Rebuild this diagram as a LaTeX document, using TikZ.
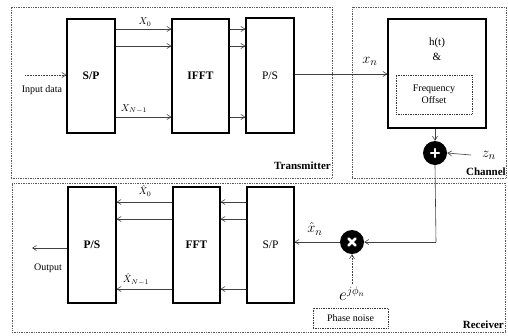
\documentclass[tikz,border=0pt]{standalone}
\usepackage{fontspec}
\setmainfont{Liberation Serif}
\usetikzlibrary{arrows.meta,calc}
\begin{document}
\begin{tikzpicture}[x=1pt,y=-1pt,
  zone/.style={draw=black!65,densely dotted,line width=0.7pt,inner sep=0pt},
  blk/.style={draw=black,line width=1.1pt,inner sep=0pt,font=\fontsize{11.5}{12}\selectfont},
  conn/.style={draw=black!75,line width=0.6pt,-{Straight Barb[length=4pt,width=5pt]}},
  lbl/.style={inner sep=0pt,font=\fontsize{10}{11}\selectfont},
  zlbl/.style={inner sep=0pt,font=\fontsize{11}{12}\selectfont\bfseries},
  dot/.style={circle,fill=black,minimum size=24pt,inner sep=0pt}
]
\useasboundingbox (0,0) rectangle (508,335);
% zones
\node[zone,minimum width=321pt,minimum height=171pt] (tx) at (171.5,92.5) {};
\node[zone,minimum width=154pt,minimum height=171pt] (ch) at (429,92.5) {};
\node[zone,minimum width=493pt,minimum height=149pt] (rx) at (258.5,257.5) {};
\node[zlbl,anchor=east] (txl) at (331,166) {Transmitter};
\node[zlbl,anchor=east] (chl) at (506,172) {Channel};
\node[zlbl,anchor=east] (rxl) at (504,325) {Receiver};
% transmitter blocks
\node[blk,minimum width=48pt,minimum height=114pt,font=\fontsize{11.5}{12}\selectfont\bfseries] (sp1) at (91,76) {S/P};
\node[blk,minimum width=57pt,minimum height=114pt,font=\fontsize{11.5}{12}\selectfont\bfseries] (ifft) at (200.5,76) {IFFT};
\node[blk,minimum width=48pt,minimum height=115pt] (ps1) at (270,75.5) {P/S};
% channel
\node[blk,minimum width=98pt,minimum height=109pt] (chb) at (437,73.5) {};
\node[lbl,font=\fontsize{11}{12}\selectfont] (ht) at (437,43) {h(t)};
\node[lbl,font=\fontsize{11}{12}\selectfont] (amp) at (437,57) {\&};
\node[zone,draw=black!80,minimum width=76pt,minimum height=39pt,align=center,font=\fontsize{10}{12}\selectfont] (fo) at (434,94.5) {Frequency\\Offset};
\node[dot] (sum) at (435,153) {};
\draw[white,line width=2.6pt,line cap=round] ($(sum)+(-4,0)$) -- ($(sum)+(4,0)$) ($(sum)+(0,-4)$) -- ($(sum)+(0,4)$);
% receiver blocks
\node[blk,minimum width=48pt,minimum height=116pt,font=\fontsize{11.5}{12}\selectfont\bfseries] (ps2) at (92,245) {P/S};
\node[blk,minimum width=47pt,minimum height=116pt,font=\fontsize{11.5}{12}\selectfont\bfseries] (fft) at (196.5,245) {FFT};
\node[blk,minimum width=47pt,minimum height=116pt] (sp2) at (270.5,245) {S/P};
\node[dot] (mul) at (352,242) {};
\draw[white,line width=2.6pt,line cap=round] ($(mul)+(-3.5,-3.5)$) -- ($(mul)+(3.5,3.5)$) ($(mul)+(-3.5,3.5)$) -- ($(mul)+(3.5,-3.5)$);
\node[draw=black!80,densely dotted,line width=0.7pt,minimum width=75pt,minimum height=20pt,inner sep=0pt,font=\fontsize{10}{11}\selectfont] (pn) at (350.5,318) {Phase noise};
% lanes
\coordinate (a0) at (0,29);
\coordinate (a1) at (0,46);
\coordinate (a2) at (0,117);
\coordinate (b0) at (0,202);
\coordinate (b1) at (0,219);
\coordinate (b2) at (0,289);
\coordinate (tin) at (25,75);
\coordinate (tout) at (32,248);
\coordinate (zin) at (471,155);
\coordinate (bend) at (436,242);
\coordinate (pnt) at (352,284);
% TX connectors
\foreach \l in {a0,a1,a2}{
  \draw[conn] (sp1.east |- \l) -- (ifft.west |- \l);
  \draw[conn] (ifft.east |- \l) -- (ps1.west |- \l);
}
\draw[conn,densely dotted] (tin) -- (sp1.west |- tin);
\draw[conn] (ps1.east |- 0,74) -- (chb.west |- 0,74);
\draw[conn] (chb.south -| sum) -- (sum.north);
\draw[conn] (zin) -- (sum.east);
% RX connectors
\foreach \l in {b0,b1,b2}{
  \draw[conn] (sp2.west |- \l) -- (fft.east |- \l);
  \draw[conn] (fft.west |- \l) -- (ps2.east |- \l);
}
\draw[conn] (ps2.west |- tout) -- (tout);
\draw[draw=black!75,line width=0.6pt] (sum.south) -- (bend);
\draw[conn] (bend) -- (mul.east);
\draw[conn] (mul.west) -- (sp2.east |- mul);
\draw[conn,densely dotted] (pnt) -- (mul.south);
% labels
\node[lbl] (x0) at (145,22) {$X_0$};
\node[lbl] (xn1) at (134,109) {$X_{N-1}$};
\node[lbl] (xh0) at (145,191) {$\hat X_0$};
\node[lbl] (xhn1) at (136,279) {$\hat X_{N-1}$};
\node[lbl,align=center] (inl) at (42,90) {Input data};
\node[lbl] (outl) at (48,268) {Output};
\node[lbl,font=\fontsize{15}{16}\selectfont] (xn) at (370,61) {$x_n$};
\node[lbl,font=\fontsize{15}{16}\selectfont] (zn) at (489,155) {$z_n$};
\node[lbl,font=\fontsize{15}{16}\selectfont] (xhn) at (315,229) {$\hat x_n$};
\node[lbl,font=\fontsize{16}{17}\selectfont] (ej) at (352,294) {$e^{j\phi_n}$};
\end{tikzpicture}
\end{document}
